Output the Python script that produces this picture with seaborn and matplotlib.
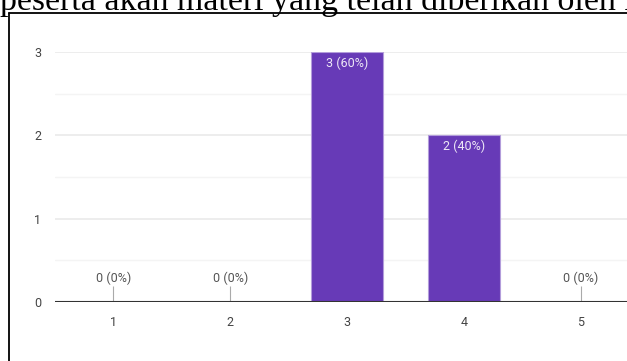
import matplotlib
matplotlib.use("Agg")
import matplotlib.pyplot as plt
import seaborn as sns
import pandas as pd
from matplotlib.lines import Line2D

categories = ["1", "2", "3", "4", "5"]
counts = [0, 0, 3, 2, 0]
y_ticks = [0, 1, 2, 3]
header_text = "peserta akan materi yang telah diberikan oleh narasumber"

sns.set_theme(style="white")
plt.rcParams["font.family"] = ["Roboto", "DejaVu Sans"]

W, H = 627, 361
fig = plt.figure(figsize=(W / 100, H / 100), dpi=100)

# axes placement in pixels
left_px, right_px, top_px, bottom_px = 55, 639, 52, 302
ax = fig.add_axes([left_px / W, 1 - bottom_px / H,
                   (right_px - left_px) / W, (bottom_px - top_px) / H])

df = pd.DataFrame({"rating": categories, "count": counts})
sns.barplot(data=df, x="rating", y="count", ax=ax, color="#673ab7",
            saturation=1, width=0.616, edgecolor="#b39ddb", linewidth=0.8,
            zorder=2)

ax.set_xlim(-0.5, 4.5)
ax.set_ylim(0, 3)
ax.set_yticks(y_ticks)
ax.set_yticks([0.5, 1.5, 2.5], minor=True)
ax.grid(True, which="major", axis="y", color="#e8e8e8", linewidth=1.1, zorder=0)
ax.grid(True, which="minor", axis="y", color="#f4f4f4", linewidth=1.0, zorder=0)
ax.grid(False, axis="x")
ax.set_axisbelow(True)
for s in ax.spines.values():
    s.set_visible(False)
ax.axhline(0, color="#333333", linewidth=1.5, zorder=4)
ax.set_xlabel("")
ax.set_ylabel("")
ax.tick_params(axis="both", which="both", length=0, labelsize=9, colors="#444444")
ax.tick_params(axis="y", pad=10)
ax.tick_params(axis="x", pad=10)

total = sum(counts)
for i, v in enumerate(counts):
    label = f"{v} ({round(v / total * 100)}%)"
    if v > 0:
        ax.annotate(label, xy=(i, v), xytext=(0, -8), textcoords="offset points",
                    ha="center", va="center", fontsize=9, color="#ede7f6", zorder=5)
    else:
        ax.vlines(i, 0, 0.19, color="#aaaaaa", linewidth=0.8, zorder=3)
        ax.annotate(label, xy=(i, v), xytext=(0, 17.3), textcoords="offset points",
                    ha="center", va="center", fontsize=9, color="#555555", zorder=5)

# surrounding document border
fig.add_artist(Line2D([9 / W, 9 / W], [0, 1 - 13 / H], color="black",
                      linewidth=1.3, transform=fig.transFigure))
fig.add_artist(Line2D([9 / W, 1], [1 - 13 / H, 1 - 13 / H], color="black",
                      linewidth=1.3, transform=fig.transFigure))

# header text (cut off at top, as in the source page)
fig.text(0.0, 1 - 10 / H, header_text, family=["Liberation Serif", "DejaVu Serif"],
         fontsize=24.4, color="black", ha="left", va="baseline")

fig.savefig("out.png", dpi=100)
